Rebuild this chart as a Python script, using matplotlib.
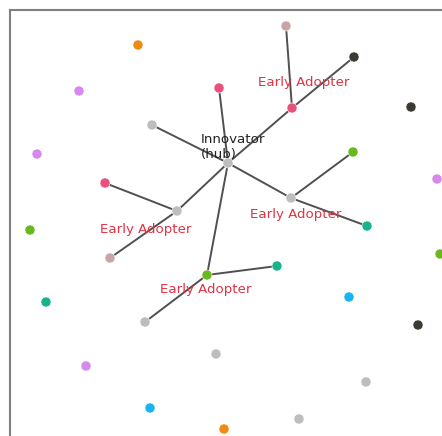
import matplotlib
matplotlib.use("Agg")
import matplotlib.pyplot as plt

# node positions (pixel-like units, y down)
node_x = [138, 79, 37, 219, 152, 228, 105, 177, 110, 30, 46, 207, 277, 145, 216, 86, 150, 224,
          299, 366, 418, 349, 440, 367, 291, 353, 437, 411, 354, 292, 286]
node_y = [45, 91, 154, 88, 125, 163, 183, 211, 258, 230, 302, 275, 266, 322, 354, 366, 408, 429,
          419, 382, 325, 297, 254, 226, 198, 152, 179, 107, 57, 108, 26]
node_c = ['#f08a10', '#d688ec', '#d688ec', '#e8507e', '#bdbdbd', '#bdbdbd', '#e8507e', '#bdbdbd',
          '#cba5a5', '#6ab820', '#16b48e', '#6ab820', '#16b48e', '#bdbdbd', '#bdbdbd', '#d688ec',
          '#18b6f0', '#f08a10', '#bdbdbd', '#bdbdbd', '#3d3a36', '#18b6f0', '#6ab820', '#16b48e',
          '#bdbdbd', '#6ab820', '#d688ec', '#3d3a36', '#3d3a36', '#e8507e', '#cba5a5']

hub = 5
edges = [(hub, 3), (hub, 4), (hub, 29), (29, 28), (29, 30),
         (hub, 24), (24, 25), (24, 23),
         (hub, 7), (7, 6), (7, 8),
         (hub, 11), (11, 12), (11, 13)]

adopters = [29, 24, 7, 11]
adopter_label_pos = [(304, 82), (296, 214), (146, 229), (206, 289)]

fig = plt.figure(figsize=(4.42, 4.36), dpi=100)
W, H = 442, 436
# axes starts at pixel (10,10) and runs past the right/bottom edge
ax = fig.add_axes([10 / W, (H - 460) / H, 470 / W, 450 / H])
ax.set_xlim(10, 480)
ax.set_ylim(460, 10)

for a, b in edges:
    ax.plot([node_x[a], node_x[b]], [node_y[a], node_y[b]], color='#505050', lw=1.4, zorder=1)

ax.scatter(node_x, node_y, s=52, c=node_c, edgecolors='white', linewidths=0.4, zorder=2)

ax.text(201, 147, 'Innovator\n(hub)', ha='left', va='center', fontsize=9.6, color='#222222', zorder=3)
for (lx, ly) in adopter_label_pos:
    ax.text(lx, ly, 'Early Adopter', ha='center', va='center', fontsize=9.6, color='#e03344', zorder=3)

ax.set_xticks([])
ax.set_yticks([])
for side in ['left', 'top', 'right', 'bottom']:
    ax.spines[side].set_color('#808080')
    ax.spines[side].set_linewidth(1.5)

fig.savefig('out.png', dpi=100)
